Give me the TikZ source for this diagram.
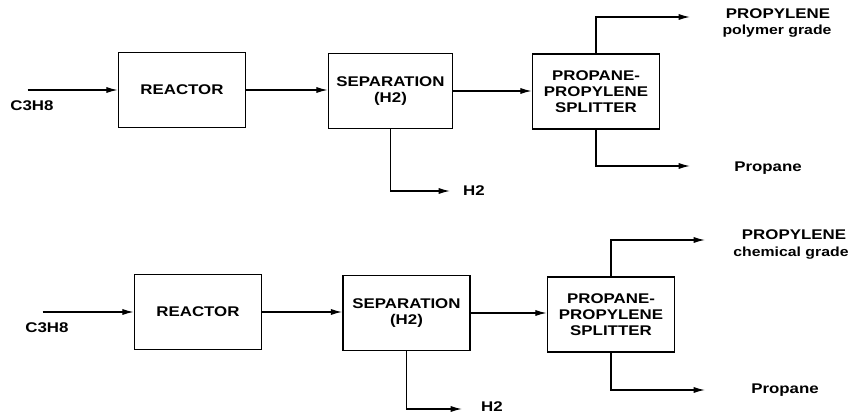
\documentclass[tikz,border=0pt]{standalone}
\usepackage{fontspec}
\setmainfont{Liberation Sans}[FakeStretch=1.2]
\usetikzlibrary{
  arrows.meta,
  positioning,
  calc,
}
\tikzset{
  unitbox/.style={
    rectangle, draw=black, line width=0.9pt, inner sep=2pt,
    minimum width=2.54cm, minimum height=1.5cm,
    align=center, font=\fontsize{8}{9}\selectfont\bfseries,
  },
  arrowFlow/.style={
    -{Latex[length=6.5pt,width=3.5pt]}, line width=0.7pt, draw=black,
  },
  streamLbl/.style={
    inner sep=0pt, font=\fontsize{8}{9}\selectfont\bfseries,
  },
  gradeLbl/.style={
    inner sep=0pt, font=\fontsize{7.5}{9}\selectfont\bfseries,
  },
}

\begin{document}
\begin{tikzpicture}[x=0.02cm, y=-0.02cm]
\useasboundingbox (0,0) rectangle (853,415);

% Polymer grade line
\node[unitbox] (reac1) at (182,90) {REACTOR};
\node[unitbox, minimum width=2.48cm] (sep1) at (390.5,91) {SEPARATION\\(H2)};
\node[unitbox] (split1) at (596,91.5) {PROPANE-\\PROPYLENE\\SPLITTER};

\coordinate (feed1) at ($(reac1.west) + (-90,0)$);
\coordinate (hyd1) at (450,191);
\coordinate (prod1) at (690,17);
\coordinate (btm1) at (690,166);

\node[streamLbl] (feedLbl1) at (32,106) {C3H8};
\node[streamLbl] (hydLbl1) at (474,191) {H2};
\node[streamLbl] (prodLbl1) at (778,14) {PROPYLENE};
\node[gradeLbl] (gradeLbl1) at (777,31) {polymer grade};
\node[streamLbl] (btmLbl1) at (768,168) {Propane};

\draw[arrowFlow] (feed1) -- (reac1.west);
\draw[arrowFlow] (reac1.east) -- (reac1.east -| sep1.west);
\draw[arrowFlow] (sep1.east) -- (sep1.east -| split1.west);
\draw[arrowFlow] (sep1.south) |- (hyd1);
\draw[arrowFlow] (split1.north) |- (prod1);
\draw[arrowFlow] (split1.south) |- (btm1);

% Chemical grade line
\node[unitbox] (reac2) at (198,312) {REACTOR};
\node[unitbox] (sep2) at (406.5,313) {SEPARATION\\(H2)};
\node[unitbox] (split2) at (611,314.5) {PROPANE-\\PROPYLENE\\SPLITTER};

\coordinate (feed2) at ($(reac2.west) + (-91,0)$);
\coordinate (hyd2) at (462,409);
\coordinate (prod2) at (705,240);
\coordinate (btm2) at (705,390);

\node[streamLbl] (feedLbl2) at (47,328) {C3H8};
\node[streamLbl] (hydLbl2) at (492,407) {H2};
\node[streamLbl] (prodLbl2) at (794,235) {PROPYLENE};
\node[gradeLbl] (gradeLbl2) at (791,253) {chemical grade};
\node[streamLbl] (btmLbl2) at (785,390) {Propane};

\draw[arrowFlow] (feed2) -- (reac2.west);
\draw[arrowFlow] (reac2.east) -- (reac2.east -| sep2.west);
\draw[arrowFlow] (sep2.east) -- (sep2.east -| split2.west);
\draw[arrowFlow] (sep2.south) |- (hyd2);
\draw[arrowFlow] (split2.north) |- (prod2);
\draw[arrowFlow] (split2.south) |- (btm2);

\end{tikzpicture}
\end{document}
